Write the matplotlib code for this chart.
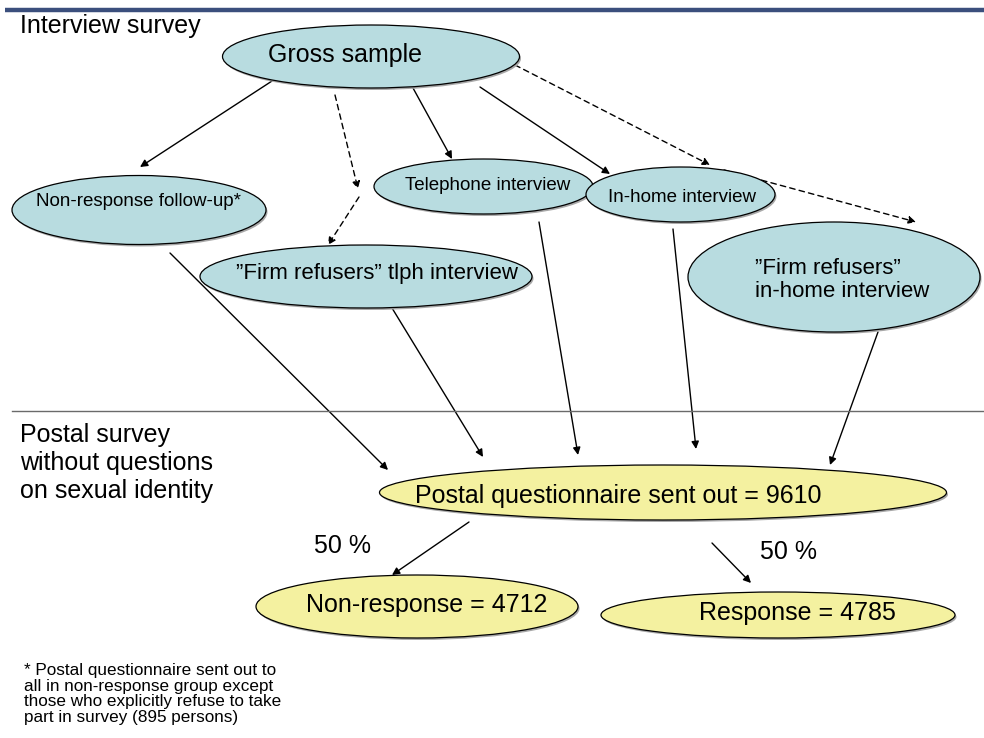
"""Flow diagram: interview survey -> postal survey (recreated with matplotlib)."""

import matplotlib

matplotlib.use("Agg")

import matplotlib.pyplot as plt
from matplotlib.patches import Ellipse, FancyArrowPatch

plt.rcParams["font.family"] = ["Liberation Sans", "DejaVu Sans"]

# nodes: label, centre (px), size (px), fill, font size
NODE_LABELS = [
    "Gross sample",
    "Non-response follow-up*",
    "Telephone interview",
    "In-home interview",
    "\u201dFirm refusers\u201d tlph interview",
    "\u201dFirm refusers\u201d\nin-home interview",
    "Postal questionnaire sent out = 9610",
    "Non-response = 4712",
    "Response = 4785",
]
NODE_CENTRES = [
    (371, 56.5), (139, 210), (483.5, 186.5), (680.5, 194.5), (366, 276.5),
    (834, 277), (663, 492.5), (417, 606.5), (778, 615),
]
NODE_SIZES = [
    (297, 63), (254, 69), (219, 55), (189, 55), (332, 63),
    (292, 110), (567, 55), (322, 63), (354, 46),
]
TEXT_POS = [
    (344.5, 55), (139, 202), (488, 185), (681.5, 197), (377, 273),
    (755, 280), (618.5, 496), (427, 605), (797.5, 613),
]
TEXT_SIZE = [18, 13.5, 13.5, 13.5, 16, 16, 18, 18, 18]
BLUE = "#B8DCE0"
YELLOW = "#F4F1A0"
NODE_FILL = [BLUE] * 6 + [YELLOW] * 3

SOLID_ARROWS = [
    ((272, 81), (140, 167)),
    ((413, 88), (452, 159)),
    ((480, 87), (610, 174)),
    ((170, 253), (388, 470)),
    ((392, 308), (483, 457)),
    ((539, 222), (578, 455)),
    ((673, 229), (696, 449)),
    ((878, 332), (830, 465)),
    ((469, 522), (392, 575)),
    ((712, 543), (751, 583)),
]
DASHED_ARROWS = [
    ((335, 95), (358, 189)),
    ((359, 197), (328, 245)),
    ((515, 65), (710, 165)),
    ((724, 170), (916, 222)),
]

SECTION_LABELS = ["Interview survey", "Postal survey\nwithout questions\non sexual identity"]
SHARE_LABELS = ["50 %", "50 %"]
FOOTNOTE = ("* Postal questionnaire sent out to\nall in non-response group except\n"
            "those who explicitly refuse to take\npart in survey (895 persons)")


def main() -> None:
    fig = plt.figure(figsize=(9.84, 7.38), dpi=100)
    ax = fig.add_axes([0, 0, 1, 1])
    ax.set_xlim(0, 984)
    ax.set_ylim(738, 0)
    ax.axis("off")

    # header rule and section divider
    ax.plot([5, 984], [10, 10], color="#3B4F7D", lw=3.2, solid_capstyle="butt")
    ax.plot([12, 984], [411, 411], color="#6A6A6A", lw=1.0)

    for (a, b) in SOLID_ARROWS:
        ax.add_patch(FancyArrowPatch(a, b, arrowstyle="-|>", mutation_scale=11,
                                     lw=1.0, color="black", shrinkA=0, shrinkB=0, zorder=1))
    for (a, b) in DASHED_ARROWS:
        ax.add_patch(FancyArrowPatch(a, b, arrowstyle="-|>", mutation_scale=11,
                                     lw=1.0, color="black", linestyle=(0, (4, 3)),
                                     shrinkA=0, shrinkB=0, zorder=1))

    for label, c, s, tp, fs, fc in zip(NODE_LABELS, NODE_CENTRES, NODE_SIZES,
                                       TEXT_POS, TEXT_SIZE, NODE_FILL):
        # soft shadow under each bubble
        ax.add_patch(Ellipse((c[0] + 1.5, c[1] + 2.0), s[0], s[1],
                             facecolor="#A8A8A8", edgecolor="none", zorder=2))
        ax.add_patch(Ellipse(c, s[0], s[1], facecolor=fc, edgecolor="black",
                             lw=0.9, zorder=3))
        ha = "left" if "\n" in label else "center"
        ax.text(tp[0], tp[1], label, fontsize=fs, ha=ha, va="center",
                linespacing=1.12, zorder=4)

    ax.text(20, 26, SECTION_LABELS[0], fontsize=18, ha="left", va="center")
    ax.text(20, 463, SECTION_LABELS[1], fontsize=18, ha="left", va="center",
            linespacing=1.2)
    ax.text(342, 546, SHARE_LABELS[0], fontsize=18, ha="center", va="center")
    ax.text(789, 552, SHARE_LABELS[1], fontsize=18, ha="center", va="center")
    ax.text(24, 694, FOOTNOTE, fontsize=12.3, ha="left", va="center", linespacing=1.08)

    fig.savefig("out.png", dpi=100)
    plt.close(fig)


if __name__ == "__main__":
    main()
